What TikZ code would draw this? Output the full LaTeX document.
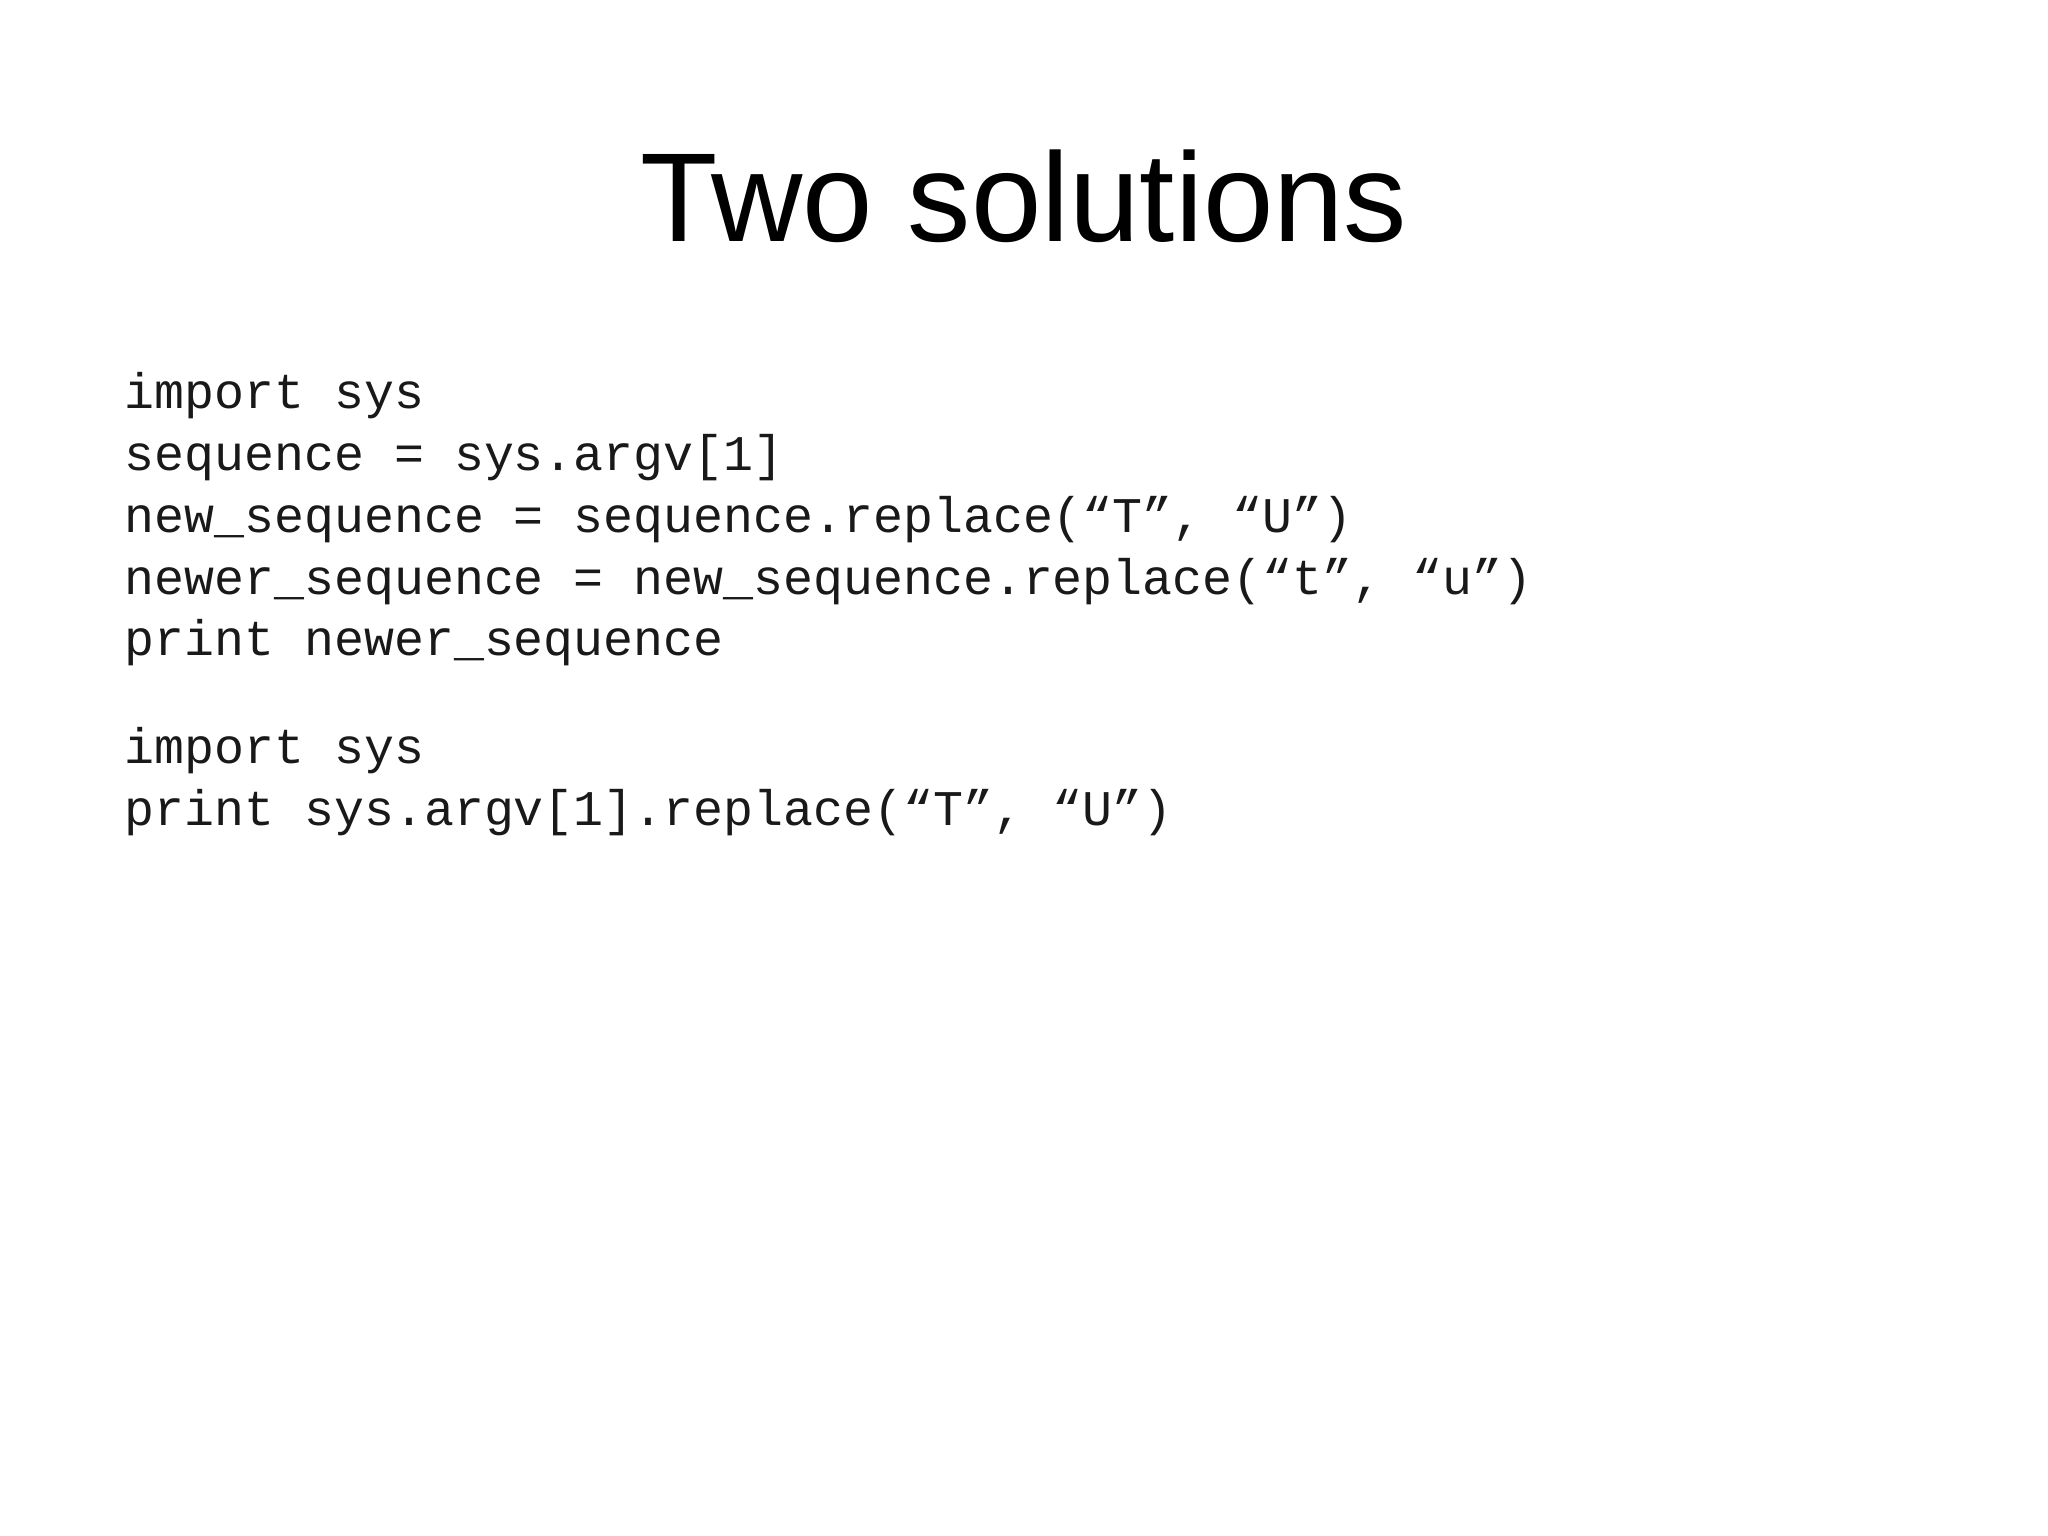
\documentclass[tikz,border=0pt]{standalone}
\usepackage{fontspec}
\setmainfont{Liberation Sans}
\newfontfamily\codefont{Liberation Mono}
\begin{document}
\begin{tikzpicture}
\useasboundingbox (0,0) rectangle (20.48,15.36);
\tikzset{code/.style={anchor=base west,inner sep=0pt,font=\codefont\fontsize{14.2pt}{17pt}\selectfont,text=black!90}}
\node[anchor=base,inner sep=0pt,font=\fontsize{36pt}{40pt}\selectfont] (title) at (10.24,12.94) {Two solutions};
\node[code] (l1) at (1.24,11.27) {import sys};
\node[code] (l2) at (1.24,10.65) {sequence = sys.argv[1]};
\node[code] (l3) at (1.24,10.03) {new\_sequence = sequence.replace(“T”, “U”)};
\node[code] (l4) at (1.24,9.41) {newer\_sequence = new\_sequence.replace(“t”, “u”)};
\node[code] (l5) at (1.24,8.80) {print newer\_sequence};
\node[code] (m1) at (1.24,7.72) {import sys};
\node[code] (m2) at (1.24,7.10) {print sys.argv[1].replace(“T”, “U”)};
\end{tikzpicture}
\end{document}
